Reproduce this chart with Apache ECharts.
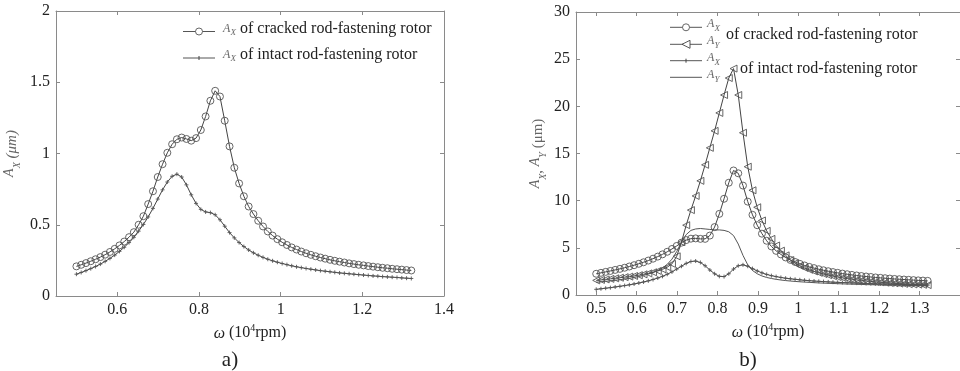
<!DOCTYPE html>
<html>
<head>
<meta charset="utf-8">
<script src="https://cdn.jsdelivr.net/npm/echarts@6/dist/echarts.min.js"></script>
<style>html,body{margin:0;padding:0;background:#fff}#c{width:960px;height:371px}</style>
</head>
<body>
<div id="c"></div>
<script>
// rotational speed (10^4 rpm)
const omega = [0.5000,0.5117,0.5234,0.5351,0.5469,0.5586,0.5703,0.5820,0.5937,0.6054,
0.6171,0.6289,0.6406,0.6523,0.6640,0.6757,0.6874,0.6991,0.7109,0.7226,
0.7343,0.7460,0.7577,0.7694,0.7811,0.7929,0.8046,0.8163,0.8280,0.8397,
0.8514,0.8631,0.8749,0.8866,0.8983,0.9100,0.9217,0.9334,0.9451,0.9569,
0.9686,0.9803,0.9920,1.0037,1.0154,1.0271,1.0389,1.0506,1.0623,1.0740,
1.0857,1.0974,1.1091,1.1209,1.1326,1.1443,1.1560,1.1677,1.1794,1.1911,
1.2029,1.2146,1.2263,1.2380,1.2497,1.2614,1.2731,1.2849,1.2966,1.3083,1.3200];

// panel a) A_X (um)
const aCrackedAX = [0.208,0.219,0.231,0.244,0.258,0.273,0.290,0.309,0.331,0.355,
0.382,0.413,0.448,0.500,0.560,0.645,0.735,0.835,0.925,1.005,
1.065,1.100,1.112,1.102,1.090,1.108,1.165,1.260,1.370,1.440,
1.400,1.230,1.050,0.900,0.790,0.700,0.628,0.575,0.528,0.488,
0.453,0.424,0.399,0.377,0.358,0.341,0.326,0.312,0.300,0.289,
0.279,0.270,0.262,0.254,0.247,0.241,0.235,0.229,0.224,0.219,
0.215,0.210,0.206,0.202,0.198,0.195,0.191,0.188,0.185,0.182,0.179];
const aIntactAX = [0.153,0.165,0.178,0.192,0.207,0.224,0.243,0.264,0.287,0.313,
0.342,0.375,0.412,0.455,0.502,0.555,0.615,0.680,0.745,0.800,
0.840,0.855,0.835,0.780,0.710,0.650,0.608,0.590,0.585,0.570,
0.535,0.490,0.445,0.408,0.375,0.347,0.323,0.303,0.286,0.271,
0.258,0.247,0.237,0.228,0.220,0.212,0.205,0.199,0.193,0.188,
0.183,0.178,0.174,0.170,0.166,0.162,0.159,0.156,0.153,0.150,
0.147,0.144,0.141,0.139,0.136,0.134,0.132,0.130,0.127,0.125,0.123];

// panel b) A_X, A_Y (um)
const bCrackedAX = [2.25,2.35,2.45,2.55,2.66,2.77,2.89,3.02,3.16,3.31,
3.47,3.65,3.85,4.07,4.31,4.58,4.88,5.20,5.55,5.82,
5.97,6.00,5.95,5.95,6.30,7.20,8.60,10.2,11.9,13.2,
12.9,11.6,9.90,8.50,7.40,6.50,5.75,5.15,4.68,4.30,
3.98,3.72,3.50,3.30,3.13,2.98,2.85,2.73,2.62,2.52,
2.43,2.35,2.27,2.20,2.13,2.07,2.01,1.96,1.91,1.86,
1.82,1.78,1.74,1.70,1.67,1.64,1.61,1.58,1.55,1.53,1.50];
const bCrackedAY = [1.55,1.60,1.65,1.71,1.77,1.83,1.89,1.95,2.02,2.10,
2.19,2.29,2.41,2.55,2.72,2.95,3.30,4.10,5.60,7.40,
9.00,10.5,12.1,13.8,15.6,17.4,19.3,21.2,23.0,24.0,
21.2,17.2,13.6,11.1,9.30,7.90,6.80,5.95,5.25,4.70,
4.20,3.70,3.38,3.10,2.87,2.67,2.50,2.35,2.22,2.10,
2.00,1.90,1.82,1.74,1.67,1.60,1.54,1.49,1.44,1.39,
1.35,1.31,1.27,1.24,1.21,1.18,1.15,1.12,1.10,1.08,1.05];
const bIntactAX = [0.60,0.66,0.72,0.78,0.85,0.92,1.00,1.08,1.17,1.27,
1.38,1.50,1.64,1.80,1.98,2.20,2.45,2.75,3.05,3.35,
3.55,3.60,3.45,3.10,2.65,2.25,1.98,1.95,2.25,2.75,
3.10,3.20,3.05,2.80,2.55,2.35,2.18,2.05,1.95,1.86,
1.78,1.72,1.66,1.61,1.56,1.52,1.48,1.45,1.42,1.39,
1.36,1.34,1.32,1.30,1.28,1.26,1.24,1.22,1.20,1.19,
1.17,1.16,1.14,1.13,1.11,1.10,1.09,1.07,1.06,1.05,1.04];
const bIntactAY = [1.35,1.40,1.45,1.50,1.56,1.62,1.69,1.77,1.86,1.96,
2.08,2.22,2.39,2.60,2.87,3.25,3.80,4.60,5.60,6.40,
6.85,7.00,7.05,7.00,6.95,6.90,6.90,6.85,6.70,6.30,
5.40,4.20,3.20,2.60,2.25,2.02,1.86,1.75,1.66,1.59,
1.53,1.48,1.44,1.40,1.37,1.34,1.31,1.28,1.26,1.24,
1.22,1.20,1.18,1.16,1.15,1.13,1.12,1.10,1.09,1.08,
1.07,1.06,1.05,1.04,1.03,1.02,1.01,1.00,0.99,0.98,0.97];

const FONT = 'Liberation Serif';
const TXT = '#222';
const FRAME = '#8a8a8a';
const LINE = '#444';
const pairs = ys => omega.map((x, i) => [x, ys[i]]);
const PLUS = 'path://M0,5L10,5M5,0L5,10';
const LTRI = 'path://M0,5L10,0L10,10Z';

function xAxisPair(gi, interval, showMax) {
  const base = {
    gridIndex: gi, type: 'value', min: 0.45, max: 1.4,
    minInterval: interval, maxInterval: interval,
    axisLine: {show: true, onZero: false, lineStyle: {color: FRAME, width: 1}},
    axisTick: {show: true, inside: true, length: 4, lineStyle: {color: FRAME}},
    splitLine: {show: false}
  };
  return [
    Object.assign({}, base, {
      position: 'bottom',
      axisLabel: {show: true, margin: 6, color: TXT, fontFamily: FONT, fontSize: 16, showMaxLabel: showMax, showMinLabel: false},
      name: '{i|ω} (10{s|4}rpm)', nameLocation: 'middle', nameGap: 27,
      nameTextStyle: {color: TXT, fontFamily: FONT, fontSize: 16, rich: {
        i: {fontFamily: FONT, fontStyle: 'italic', fontSize: 16, color: TXT, lineHeight: 19, verticalAlign: 'bottom'},
        s: {fontFamily: FONT, fontSize: 10, color: TXT, lineHeight: 19, verticalAlign: 'top'}
      }}
    }),
    Object.assign({}, base, {position: 'top', axisLabel: {show: false}})
  ];
}
function yAxisPair(gi, max, interval, name, rich, gap) {
  const base = {
    gridIndex: gi, type: 'value', min: 0, max: max, interval: interval,
    axisLine: {show: true, lineStyle: {color: FRAME, width: 1}},
    axisTick: {show: true, inside: true, length: 4, lineStyle: {color: FRAME}},
    splitLine: {show: false}
  };
  return [
    Object.assign({}, base, {
      position: 'left',
      axisLabel: {show: true, margin: 6, color: TXT, fontFamily: FONT, fontSize: 16},
      name: name, nameLocation: 'middle', nameGap: gap,
      nameTextStyle: {color: '#666', fontFamily: FONT, fontSize: 15, rich: rich}
    }),
    Object.assign({}, base, {position: 'right', axisLabel: {show: false}})
  ];
}

const subRich = {
  a: {fontFamily: FONT, fontStyle: 'italic', fontSize: 14, color: '#666', lineHeight: 20, verticalAlign: 'top'},
  s: {fontFamily: FONT, fontStyle: 'italic', fontSize: 10, color: '#666', lineHeight: 20, verticalAlign: 'bottom'},
  u: {fontFamily: FONT, fontStyle: 'italic', fontSize: 15, color: '#666', lineHeight: 20},
  n: {fontFamily: FONT, fontSize: 15, color: '#666', lineHeight: 20}
};

const xs = xAxisPair(0, 0.2, true).concat(xAxisPair(1, 0.1, false));
const ys = yAxisPair(0, 2, 0.5, '{a|A}{s|X} {u|(μm)}', subRich, 34)
  .concat(yAxisPair(1, 30, 5, '{a|A}{s|X}{n|,} {a|A}{s|Y} {n|(μm)}', subRich, 28));

function lineSeries(xi, yi, data, symbol, size, extra) {
  return Object.assign({
    type: 'line', xAxisIndex: xi, yAxisIndex: yi, data: data,
    symbol: symbol, symbolSize: size, showSymbol: symbol !== 'none',
    lineStyle: {color: LINE, width: 1},
    itemStyle: {color: 'rgba(0,0,0,0)', borderColor: '#555', borderWidth: 0.9},
    emphasis: {disabled: true}, silent: true, z: 3
  }, extra || {});
}

const series = [
  lineSeries(0, 0, pairs(aCrackedAX), 'circle', 7),
  lineSeries(0, 0, pairs(aIntactAX), PLUS, 4),
  lineSeries(2, 2, pairs(bIntactAY), 'none', 0, {lineStyle: {color: '#555', width: 1}}),
  lineSeries(2, 2, pairs(bIntactAX), PLUS, 4),
  lineSeries(2, 2, pairs(bCrackedAY), LTRI, 7),
  lineSeries(2, 2, pairs(bCrackedAX), 'circle', 7)
];

// legend drawn as graphic elements
const G = [];
function legLine(x1, x2, y) { G.push({type: 'line', shape: {x1: x1, y1: y, x2: x2, y2: y}, style: {stroke: '#555', lineWidth: 1}, z: 10}); }
function legCircle(cx, cy) { G.push({type: 'circle', shape: {cx: cx, cy: cy, r: 3.5}, style: {fill: '#fff', stroke: '#555', lineWidth: 0.9}, z: 11}); }
function legTri(cx, cy) { G.push({type: 'polygon', shape: {points: [[cx - 4, cy], [cx + 4, cy - 4], [cx + 4, cy + 4]]}, style: {fill: '#fff', stroke: '#444', lineWidth: 0.9}, z: 11}); }
function legPlus(cx, cy) {
  G.push({type: 'line', shape: {x1: cx, y1: cy - 2, x2: cx, y2: cy + 2}, style: {stroke: '#444', lineWidth: 1}, z: 11});
}
function legSym(x, y, sub) {
  G.push({type: 'text', x: x, y: y, style: {text: 'A', font: 'italic 12px "Liberation Serif"', fill: '#666', verticalAlign: 'middle'}, z: 11});
  G.push({type: 'text', x: x + 7.5, y: y + 4.5, style: {text: sub, font: 'italic 9px "Liberation Serif"', fill: '#666', verticalAlign: 'middle'}, z: 11});
}
function legText(x, y, t) {
  G.push({type: 'text', x: x, y: y, style: {text: t, font: '16px "Liberation Serif"', fill: TXT, verticalAlign: 'middle'}, z: 11});
}
// panel a legend
legLine(183, 215, 31.5); legCircle(199, 31.5); legSym(223, 28.5, 'X'); legText(240, 28.5, 'of cracked rod-fastening rotor');
legLine(183, 215, 58); legPlus(199, 58); legSym(223, 54.5, 'X'); legText(240, 54.5, 'of intact rod-fastening rotor');
// panel b legend
legLine(670, 702, 27.3); legCircle(686, 27.3); legSym(707, 24, 'X');
legLine(670, 702, 44.3); legTri(686, 44.3); legSym(707, 41, 'Y');
legText(726, 35, 'of cracked rod-fastening rotor');
legLine(670, 702, 60.7); legPlus(686, 60.7); legSym(707, 58, 'X');
legLine(670, 702, 77.3); legSym(707, 75, 'Y');
legText(740, 69, 'of intact rod-fastening rotor');
// panel captions
G.push({type: 'text', x: 230, y: 360, style: {text: 'a)', font: '21px "Liberation Serif"', fill: TXT, align: 'center', verticalAlign: 'middle'}});
G.push({type: 'text', x: 748, y: 360, style: {text: 'b)', font: '21px "Liberation Serif"', fill: TXT, align: 'center', verticalAlign: 'middle'}});

const chart = echarts.init(document.getElementById('c'), null, {renderer: 'canvas'});
chart.setOption({
  animation: false,
  backgroundColor: '#fff',
  grid: [
    {left: 56, top: 11, width: 388, height: 285},
    {left: 576, top: 12, width: 387, height: 283}
  ],
  xAxis: xs,
  yAxis: ys,
  series: series,
  graphic: G
});
</script>
</body>
</html>
